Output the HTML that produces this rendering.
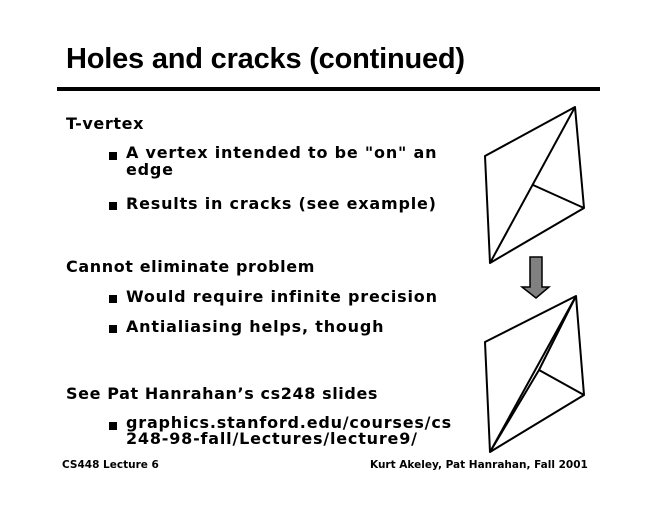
<!DOCTYPE html>
<html><head><style>
body{margin:0;width:660px;height:510px;background:#fff;position:relative;font-family:"DejaVu Sans","Liberation Sans",sans-serif;font-weight:bold;color:#000;overflow:hidden}
.t{position:absolute;white-space:nowrap}
h1{position:absolute;left:66px;top:43px;margin:0;font-family:"Liberation Sans",sans-serif;font-size:29px;font-weight:bold;letter-spacing:-0.2px}
.rule{position:absolute;left:57px;top:87px;width:543px;height:4px;background:#000}
.l1{font-size:16px;letter-spacing:0.6px}
.l2{font-size:16px;letter-spacing:0.8px}
.b{position:absolute;width:8px;height:8px;background:#000}
.f{font-size:10.5px;font-weight:bold}
</style></head><body>
<h1>Holes and cracks (continued)</h1>
<div class="rule"></div>
<div class="t l1" style="left:66px;top:114px">T-vertex</div>
<div class="b" style="left:109px;top:152px"></div>
<div class="t l2" style="left:126px;top:144px;line-height:17px">A vertex intended to be "on" an<br>edge</div>
<div class="b" style="left:109px;top:202px"></div>
<div class="t l2" style="left:126px;top:194px">Results in cracks (see example)</div>
<div class="t l1" style="left:66px;top:257px">Cannot eliminate problem</div>
<div class="b" style="left:109px;top:295px"></div>
<div class="t l2" style="left:126px;top:287px">Would require infinite precision</div>
<div class="b" style="left:109px;top:325px"></div>
<div class="t l2" style="left:126px;top:317px">Antialiasing helps, though</div>
<div class="t l1" style="left:66px;top:384px">See Pat Hanrahan’s cs248 slides</div>
<div class="b" style="left:109px;top:422px"></div>
<div class="t l2" style="left:126px;top:415px;line-height:16px">graphics.stanford.edu/courses/cs<br>248-98-fall/Lectures/lecture9/</div>
<div class="t f" style="left:62px;top:459px">CS448 Lecture 6</div>
<div class="t f" style="left:370px;top:459px">Kurt Akeley, Pat Hanrahan, Fall 2001</div>
<svg style="position:absolute;left:0;top:0" width="660" height="510">
<g fill="none" stroke="#000" stroke-width="2" stroke-linejoin="round">
<polygon points="485,156 575,107 584,208 490,263"/>
<line x1="490" y1="263" x2="575" y2="107"/>
<line x1="533" y1="185" x2="584" y2="208"/>
<polygon points="485,342 576,296 584,395 490,452"/>
<line x1="490" y1="452" x2="576" y2="296"/>
<polyline points="490,452 539,370 576,296"/>
<line x1="539" y1="370" x2="584" y2="395"/>
</g>
<polygon points="530,257 542,257 542,287 549,287 536,298 522,287 530,287" fill="#808080" stroke="#000" stroke-width="1.5"/>
</svg>
</body></html>
